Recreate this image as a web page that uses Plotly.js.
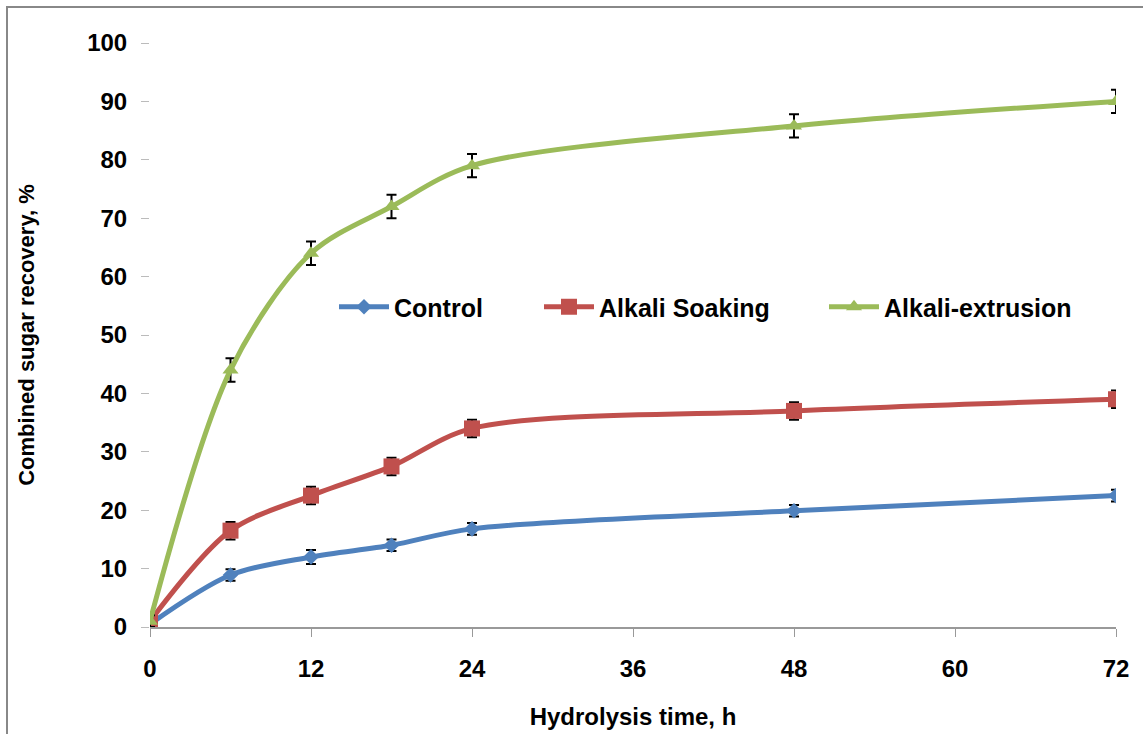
<!DOCTYPE html>
<html>
<head>
<meta charset="utf-8">
<script src="https://cdn.plot.ly/plotly-3.0.1.min.js"></script>
<style>html,body{margin:0;padding:0;background:#fff;}#chart{width:1143px;height:734px;}</style>
</head>
<body>
<div id="chart"></div>
<script>
const hours = [0, 6, 12, 18, 24, 48, 72];
const seriesNames = ["Control", "Alkali Soaking", "Alkali-extrusion"];
const control = [0.5, 8.9, 12.0, 14.0, 16.8, 19.9, 22.5];
const controlErr = [1.0, 1.0, 1.2, 1.0, 1.0, 1.0, 1.0];
const soaking = [1.0, 16.5, 22.5, 27.5, 34.0, 37.0, 39.0];
const soakingErr = [1.5, 1.5, 1.5, 1.5, 1.5, 1.5, 1.5];
const extrusion = [1.0, 44.0, 64.0, 72.0, 79.0, 85.8, 90.0];
const extrusionErr = [1.0, 2.0, 2.0, 2.0, 2.0, 2.0, 2.0];
const xTicks = [0, 12, 24, 36, 48, 60, 72];
const yTicks = [0, 10, 20, 30, 40, 50, 60, 70, 80, 90, 100];

function mk(name, y, err, color, symbol, size, lg) {
  return {
    x: hours, y: y, name: name, type: 'scatter', mode: 'lines+markers', legend: lg,
    line: {color: color, width: 5, shape: 'spline', smoothing: 0.9},
    marker: {color: color, symbol: symbol, size: size},
    error_y: {type: 'data', array: err, visible: true, color: '#000', thickness: 2, width: 5}
  };
}
const data = [
  mk(seriesNames[0], control, controlErr, '#4F81BD', 'diamond', 12, 'legend'),
  mk(seriesNames[1], soaking, soakingErr, '#C0504D', 'square', 16, 'legend2'),
  mk(seriesNames[2], extrusion, extrusionErr, '#9BBB59', 'triangle-up', 14, 'legend3')
];
const W = 966, H = 584;
function lgd(px) {
  return {orientation: 'h', x: (px - 150) / W, xanchor: 'left', y: (627 - 307) / H, yanchor: 'middle',
    font: {size: 25, weight: 'bold', family: 'Liberation Sans, Arial, sans-serif'},
    itemwidth: 50, bgcolor: 'rgba(0,0,0,0)'};
}
const layout = {
  width: 1143, height: 734,
  margin: {l: 150, r: 27, t: 43, b: 107},
  paper_bgcolor: '#fff', plot_bgcolor: '#fff',
  font: {family: 'Liberation Sans, Arial, sans-serif', color: '#000'},
  showlegend: true,
  legend: lgd(334), legend2: lgd(539), legend3: lgd(824),
  xaxis: {
    range: [0, 72], tickvals: xTicks, ticktext: xTicks.map(String),
    showgrid: false, zeroline: false, showline: true, linecolor: '#999', linewidth: 1.5,
    ticks: 'outside', ticklen: 8, tickcolor: '#999', tickwidth: 1,
    tickfont: {size: 24, weight: 'bold'}, ticklabelstandoff: 12,
    title: {text: 'Hydrolysis time, h', font: {size: 24, weight: 'bold'}, standoff: 27}
  },
  yaxis: {
    range: [0, 100], tickvals: yTicks, ticktext: yTicks.map(String),
    showgrid: false, zeroline: false, showline: false,
    ticks: 'outside', ticklen: 8, tickcolor: '#bbb', tickwidth: 1,
    tickfont: {size: 24, weight: 'bold'}, ticklabelstandoff: 9,
    title: {text: 'Combined sugar recovery, %', font: {size: 22, weight: 'bold'}, standoff: 46}
  },
  shapes: [{
    type: 'rect', xref: 'paper', yref: 'paper',
    x0: (7 - 150) / W, x1: (1150 - 150) / W, y0: (627 - 745) / H, y1: (627 - 7) / H,
    line: {color: '#888', width: 2}, fillcolor: 'rgba(0,0,0,0)', layer: 'below'
  }]
};
Plotly.newPlot('chart', data, layout, {displayModeBar: false, staticPlot: true});
</script>
</body>
</html>
